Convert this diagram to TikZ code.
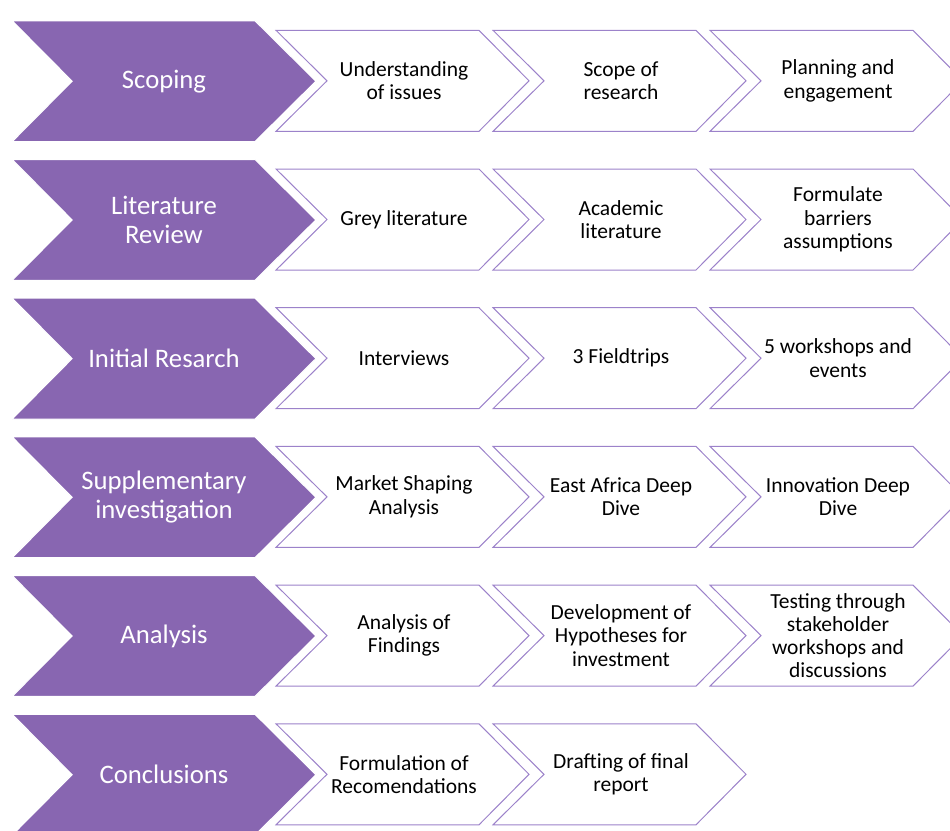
\documentclass[tikz,border=0pt]{standalone}
\usepackage{fontspec}
\setmainfont{Carlito}
\definecolor{pfill}{HTML}{8866B1}
\definecolor{pline}{HTML}{9C82CA}
\tikzset{
  pchev/.style={fill=pfill, draw=white, line width=1.2pt, line join=miter},
  wchev/.style={fill=white, draw=pline, line width=1pt, line join=miter},
  ptext/.style={text=white, align=center, font=\fontsize{26.7}{29}\selectfont, inner sep=0pt},
  wtext/.style={text=black, align=center, font=\fontsize{21.5}{23.3}\selectfont, inner sep=0pt},
}
\newcommand\PChev[3]{%
  \pgfmathsetmacro\tT{20.7+#1*138.7}%
  \pgfmathsetmacro\tM{\tT+60.5}%
  \pgfmathsetmacro\tB{\tT+121}%
  \path[pchev] (12,\tT) -- (255,\tT) -- (316,\tM) -- (255,\tB) -- (12,\tB) -- (72,\tM) -- cycle;
  \node[ptext] (#2) at (164,\tM) {#3};
}
\newcommand\WChev[4]{%
  \pgfmathsetmacro\tT{30.3+#1*138.7}%
  \pgfmathsetmacro\tM{\tT+50.5}%
  \pgfmathsetmacro\tB{\tT+101}%
  \pgfmathsetmacro\tL{276+#2*217}%
  \pgfmathsetmacro\tR{\tL+203}%
  \pgfmathsetmacro\tP{\tL+253}%
  \pgfmathsetmacro\tN{\tL+51}%
  \pgfmathsetmacro\tC{\tL+128}%
  \path[wchev] (\tL,\tT) -- (\tR,\tT) -- (\tP,\tM) -- (\tR,\tB) -- (\tL,\tB) -- (\tN,\tM) -- cycle;
  \node[wtext] (#3) at (\tC,\tM) {#4};
}
\begin{document}
\begin{tikzpicture}[x=1pt,y=-1pt]
\useasboundingbox (0,0) rectangle (950,830);
\clip (0,0) rectangle (950,830);
% Row 1
\PChev{0}{scoping}{Scoping}
\WChev{0}{0}{s1}{Understanding\\of issues}
\WChev{0}{1}{s2}{Scope of\\research}
\WChev{0}{2}{s3}{Planning and\\engagement}
% Row 2
\PChev{1}{litrev}{Literature\\Review}
\WChev{1}{0}{l1}{Grey literature}
\WChev{1}{1}{l2}{Academic\\literature}
\WChev{1}{2}{l3}{Formulate\\barriers\\assumptions}
% Row 3
\PChev{2}{initial}{Initial Resarch}
\WChev{2}{0}{i1}{Interviews}
\WChev{2}{1}{i2}{3 Fieldtrips}
\WChev{2}{2}{i3}{5 workshops and\\events}
% Row 4
\PChev{3}{supp}{Supplementary\\investigation}
\WChev{3}{0}{u1}{Market Shaping\\Analysis}
\WChev{3}{1}{u2}{East Africa Deep\\Dive}
\WChev{3}{2}{u3}{Innovation Deep\\Dive}
% Row 5
\PChev{4}{analysis}{Analysis}
\WChev{4}{0}{a1}{Analysis of\\Findings}
\WChev{4}{1}{a2}{Development of\\Hypotheses for\\investment}
\WChev{4}{2}{a3}{Testing through\\stakeholder\\workshops and\\discussions}
% Row 6
\PChev{5}{concl}{Conclusions}
\WChev{5}{0}{c1}{Formulation of\\Recomendations}
\WChev{5}{1}{c2}{Drafting of final\\report}
\end{tikzpicture}
\end{document}
